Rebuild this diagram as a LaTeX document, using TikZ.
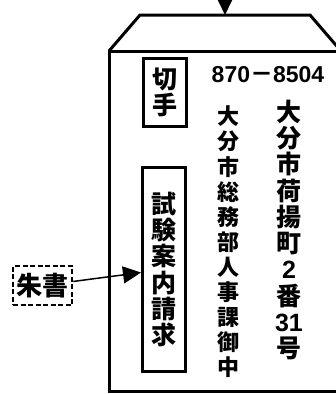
\documentclass[tikz,border=0pt]{standalone}
\usepackage{fontspec}
\setmainfont{Noto Sans CJK JP}
\newfontfamily\latinfont{Liberation Sans}
\usetikzlibrary{arrows.meta}
\tikzset{
    box/.style={draw, line width=3pt, minimum width=43pt},
    tategaki/.style={align=center, inner sep=0pt},
    pointer/.style={-{Triangle[length=18pt,width=17pt]}, line width=1.5pt}
}
\begin{document}
\begin{tikzpicture}[x=1pt,y=-1pt]
        \useasboundingbox (0,0) rectangle (336,394);
        \clip (0,0) rectangle (336,394);
        %% envelope and flap
        \draw[line width=3pt] (109,51) rectangle (341,391);
        \draw[line width=3pt, line join=miter] (109,51) -- (140,15) -- (310,15) -- (341,51);
        \coordinate (flaptop) at (225,15);
        \coordinate (above) at (225,-30);
        \draw[pointer] (above) -- (flaptop);
        %% stamp
        \node[box, tategaki, minimum height=68pt, font=\bfseries\fontsize{25}{26}\selectfont] (kitte) at (165,92) {切\\手};
        %% postal code and address
        \node[font=\bfseries\fontsize{23}{23}\selectfont] (zip) at (268,75) {{\latinfont 870}－{\latinfont 8504}};
        \node[tategaki, font=\bfseries\fontsize{25}{26.3}\selectfont] (addr) at (289,230)
            {大\\分\\市\\荷\\揚\\町\\{\latinfont 2}\\番\\{\latinfont 31}\\号};
        \node[tategaki, font=\bfseries\fontsize{22}{25.1}\selectfont] (dept) at (228,242)
            {大\\分\\市\\総\\務\\部\\人\\事\\課\\御\\中};
        %% request box and red note
        \node[box, tategaki, minimum height=204pt, font=\bfseries\fontsize{25}{26.3}\selectfont] (seikyu) at (164,269.5)
            {試\\験\\案\\内\\請\\求};
        \node[draw, dash pattern=on 5pt off 2.5pt, line width=2.5pt, minimum width=59pt, minimum height=39pt, inner sep=0pt,
            font=\bfseries\fontsize{26}{26}\selectfont] (shusho) at (42.5,285.5) {朱書};
        \draw[pointer] (shusho) -- (seikyu);
    \end{tikzpicture}
\end{document}
